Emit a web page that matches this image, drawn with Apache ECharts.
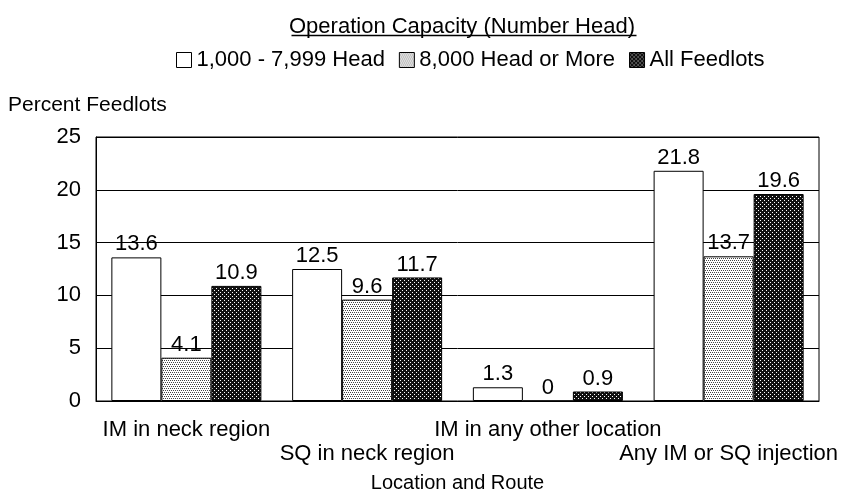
<!DOCTYPE html>
<html>
<head>
<meta charset="utf-8">
<script src="https://cdn.jsdelivr.net/npm/echarts@6/dist/echarts.min.js"></script>
<style>
html, body { margin: 0; padding: 0; background: #fff; }
#chart_div { width: 841px; height: 492px; }
</style>
</head>
<body>
<div id="chart_div"></div>
<script>
var categories = ['IM in neck region', 'SQ in neck region', 'IM in any other location', 'Any IM or SQ injection'];
var series_names = ['1,000 - 7,999 Head', '8,000 Head or More', 'All Feedlots'];
var small_ops = [13.6, 12.5, 1.3, 21.8];
var large_ops = [4.1, 9.6, 0, 13.7];
var all_ops = [10.9, 11.7, 0.9, 19.6];
var y_ticks = [0, 5, 10, 15, 20, 25];

// dotted fills like the print screens
function makePattern(bg, fg, dots) {
	var c = document.createElement('canvas');
	c.width = 4;
	c.height = 4;
	var ctx = c.getContext('2d');
	ctx.fillStyle = bg;
	ctx.fillRect(0, 0, 4, 4);
	ctx.fillStyle = fg;
	for (var i = 0; i < dots.length; i++) {
		ctx.fillRect(dots[i][0], dots[i][1], 1, 1);
	}
	return { image: c, repeat: 'repeat' };
}
var light_fill = makePattern('#ffffff', '#444444', [[0, 0], [2, 0], [1, 2], [3, 2]]);
var dark_fill = makePattern('#111111', '#ffffff', [[0, 0], [2, 2]]);
var fills = ['#ffffff', light_fill, dark_fill];
var values = [small_ops, large_ops, all_ops];

var font = 'Liberation Sans, Arial, sans-serif';

var t_series = [];
for (var i = 0; i < series_names.length; i++) {
	t_series.push({
		name: series_names[i],
		type: 'bar',
		data: values[i],
		barGap: '0%',
		barCategoryGap: '17%',
		itemStyle: { color: fills[i], borderColor: '#000', borderWidth: 1 },
		label: {
			show: true, position: 'top', distance: 2,
			color: '#000', fontSize: 22, fontFamily: font
		}
	});
}

var chart = echarts.init(document.getElementById('chart_div'));
chart.setOption({
	backgroundColor: '#fff',
	animation: false,
	title: [{
		text: 'Operation Capacity (Number Head)',
		left: 284, top: 11,
		textStyle: { fontSize: 22, fontWeight: 'normal', color: '#000', fontFamily: font }
	}, {
		text: 'Percent Feedlots',
		left: 3, top: 90,
		textStyle: { fontSize: 21, fontWeight: 'normal', color: '#000', fontFamily: font }
	}],
	graphic: [{
		type: 'line',
		left: 289, top: 33,
		shape: { x1: 0, y1: 0, x2: 345, y2: 0 },
		style: { stroke: '#000', lineWidth: 1.5 }
	}],
	legend: {
		top: 44, left: 171,
		itemWidth: 15, itemHeight: 15, itemGap: 14,
		icon: 'rect',
		data: series_names,
		itemStyle: { borderColor: '#000', borderWidth: 1 },
		textStyle: { fontSize: 22, color: '#000', fontFamily: font }
	},
	grid: {
		left: 96, right: 22, top: 137, bottom: 91,
		containLabel: false,
		outerBoundsMode: 'none',
		show: true, borderColor: '#000', borderWidth: 1
	},
	xAxis: {
		type: 'category',
		data: categories,
		name: 'Location and Route',
		nameLocation: 'middle',
		nameGap: 72,
		nameTextStyle: { fontSize: 20, color: '#000', fontFamily: font },
		axisLine: { lineStyle: { color: '#000' } },
		axisTick: { show: false },
		axisLabel: {
			interval: 0, margin: 17, lineHeight: 24,
			fontSize: 22, color: '#000', fontFamily: font,
			formatter: function (v, idx) { return idx % 2 ? '\n' + v : v; }
		}
	},
	yAxis: {
		type: 'value',
		min: y_ticks[0], max: y_ticks[y_ticks.length - 1], interval: 5,
		axisLine: { show: true, lineStyle: { color: '#000' } },
		axisTick: { show: false },
		axisLabel: { margin: 15, fontSize: 22, color: '#000', fontFamily: font },
		splitLine: { lineStyle: { color: '#000', width: 1 } }
	},
	series: t_series
});
</script>
</body>
</html>
